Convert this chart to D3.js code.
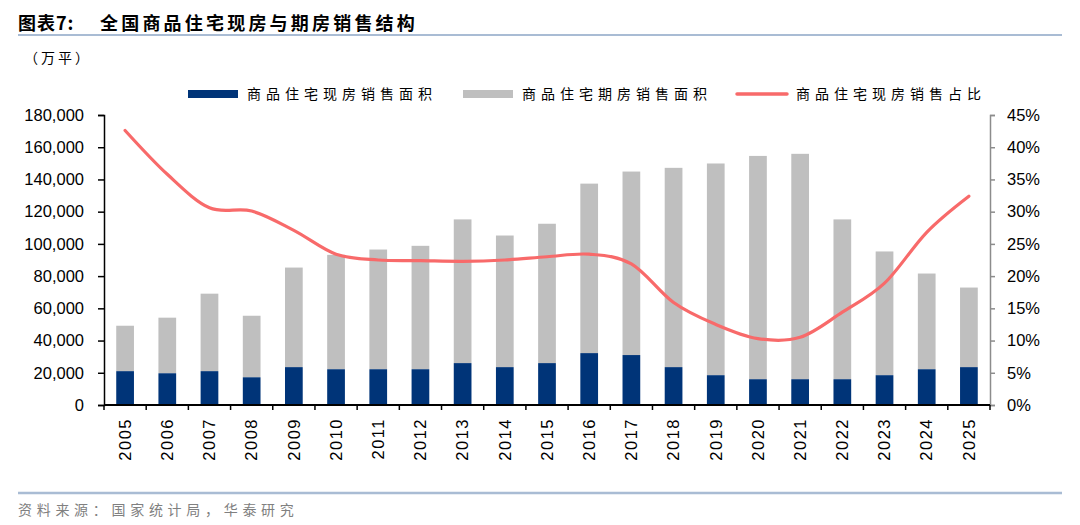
<!DOCTYPE html>
<html>
<head>
<meta charset="utf-8">
<script src="https://cdn.jsdelivr.net/npm/d3@7"></script>
<style>
    body { margin: 0; background: #fff; }
    text { font-family: "Liberation Sans", Arial, sans-serif; }
    .cjk { font-family: "Noto Sans CJK SC", sans-serif; }
</style>
</head>
<body>
<svg id="chart" width="1080" height="525"></svg>
<script>
// data
const years = ['2005', '2006', '2007', '2008', '2009', '2010', '2011', '2012', '2013', '2014', '2015',
    '2016', '2017', '2018', '2019', '2020', '2021', '2022', '2023', '2024', '2025'];
// 商品住宅现房销售面积 (万平)
const existingArea = [21000, 19700, 21000, 17200, 23500, 22200, 22200, 22200, 26000, 23500, 26000,
    32200, 31000, 23500, 18500, 16000, 16000, 16000, 18500, 22200, 23500];
// 商品住宅期房销售面积 (万平), stacked on top of the above
const presaleArea = [28200, 34500, 48100, 38200, 61800, 71000, 74300, 76600, 89200, 81700, 86500,
    105200, 113900, 123700, 131400, 138600, 139900, 99200, 76800, 59400, 49400];
// 商品住宅现房销售占比 (%)
const existingShare = [42.6, 35.8, 30.6, 30.1, 27.1, 23.4, 22.5, 22.4, 22.3, 22.5, 23.0,
    23.4, 21.9, 15.9, 12.5, 10.3, 10.5, 14.4, 18.9, 26.8, 32.4];
const leftTicks = [0, 20000, 40000, 60000, 80000, 100000, 120000, 140000, 160000, 180000];
const rightTicks = [0, 5, 10, 15, 20, 25, 30, 35, 40, 45];

const colors = {dark: '#003478', gray: '#bfbfbf', line: '#f86a6a', rule: '#a9bcd4'};

const svg = d3.select('#chart');
const plotLeft = 104, plotRight = 990, plotTop = 115, plotBottom = 405;

// header
const title = svg.append('text')
    .attr('class', 'cjk')
    .attr('y', 30)
    .attr('font-size', 18).attr('font-weight', 'bold')
    .attr('fill', '#000');
title.append('tspan').attr('x', 18).attr('letter-spacing', 1).text('图表7:');
title.append('tspan').attr('x', 100).attr('letter-spacing', 3.2).text('全国商品住宅现房与期房销售结构');

svg.append('line')
    .attr('x1', 18).attr('x2', 1062).attr('y1', 35).attr('y2', 35)
    .attr('stroke', colors.rule).attr('stroke-width', 2);

svg.append('text')
    .attr('class', 'cjk')
    .attr('x', 24).attr('y', 63)
    .attr('font-size', 14).attr('letter-spacing', 3)
    .text('（万平）');

// legend
const legend = [
    {name: '商品住宅现房销售面积', type: 'rect', color: colors.dark, x: 188},
    {name: '商品住宅期房销售面积', type: 'rect', color: colors.gray, x: 463},
    {name: '商品住宅现房销售占比', type: 'line', color: colors.line, x: 737}
];
legend.forEach(function(l) {
    if (l.type === 'rect') {
        svg.append('rect').attr('x', l.x).attr('y', 90).attr('width', 50).attr('height', 8).attr('fill', l.color);
    } else {
        svg.append('line').attr('x1', l.x).attr('x2', l.x + 50).attr('y1', 94).attr('y2', 94)
            .attr('stroke', l.color).attr('stroke-width', 3.5).attr('stroke-linecap', 'round');
    }
    svg.append('text')
        .attr('class', 'cjk')
        .attr('x', l.x + 59).attr('y', 99)
        .attr('font-size', 14).attr('letter-spacing', 5)
        .text(l.name);
});

// scales
const xScale = d3.scaleBand()
    .domain(years)
    .range([plotLeft, plotRight])
    .paddingInner(0.58)
    .paddingOuter(0.29);

const yScale = d3.scaleLinear().domain([0, 180000]).range([plotBottom, plotTop]);
const y2Scale = d3.scaleLinear().domain([0, 45]).range([plotBottom, plotTop]);

// stacked bars
const barGroups = svg.append('g').selectAll('g')
    .data(years)
    .enter()
    .append('g');

barGroups.append('rect')
    .attr('x', (d) => xScale(d))
    .attr('width', xScale.bandwidth())
    .attr('y', (d, i) => yScale(existingArea[i] + presaleArea[i]))
    .attr('height', (d, i) => yScale(existingArea[i]) - yScale(existingArea[i] + presaleArea[i]))
    .attr('fill', colors.gray);

barGroups.append('rect')
    .attr('x', (d) => xScale(d))
    .attr('width', xScale.bandwidth())
    .attr('y', (d, i) => yScale(existingArea[i]))
    .attr('height', (d, i) => plotBottom - yScale(existingArea[i]))
    .attr('fill', colors.dark);

// share line
const line = d3.line()
    .x((d, i) => xScale(years[i]) + xScale.bandwidth() / 2)
    .y((d) => y2Scale(d))
    .curve(d3.curveCardinal.tension(0));

svg.append('path')
    .datum(existingShare)
    .attr('d', line)
    .attr('fill', 'none')
    .attr('stroke', colors.line)
    .attr('stroke-width', 3.2)
    .attr('stroke-linecap', 'round');

// left axis
const leftAxis = svg.append('g')
    .attr('transform', `translate(${plotLeft},0)`)
    .call(d3.axisLeft(yScale).tickValues(leftTicks).tickSize(6).tickPadding(14).tickFormat(d3.format(',')));
leftAxis.select('.domain').attr('stroke', '#000').attr('stroke-width', 1.5);
leftAxis.selectAll('.tick line').attr('stroke', '#000').attr('stroke-width', 1.5);
leftAxis.selectAll('text').attr('font-size', 16.5).attr('fill', '#000')
    .style('font-family', '"Liberation Sans", Arial, sans-serif');

// right axis
const rightAxis = svg.append('g')
    .attr('transform', `translate(${plotRight},0)`)
    .call(d3.axisRight(y2Scale).tickValues(rightTicks).tickSize(5).tickPadding(12).tickFormat((d) => d + '%'));
rightAxis.select('.domain').attr('stroke', '#8c8c8c').attr('stroke-width', 1.5);
rightAxis.selectAll('.tick line').attr('stroke', '#8c8c8c').attr('stroke-width', 1.5);
rightAxis.selectAll('text').attr('font-size', 16.5).attr('fill', '#000')
    .style('font-family', '"Liberation Sans", Arial, sans-serif');

// bottom axis: labels centred on bars, ticks on category boundaries
const bottomAxis = svg.append('g')
    .attr('transform', `translate(0,${plotBottom})`)
    .call(d3.axisBottom(xScale).tickSize(0).tickSizeOuter(0));
bottomAxis.select('.domain').remove();
bottomAxis.selectAll('text')
    .attr('transform', 'rotate(-90)')
    .attr('x', -13)
    .attr('y', 0)
    .attr('dy', '0.35em')
    .attr('font-size', 16.5)
    .attr('letter-spacing', 1.5)
    .attr('fill', '#000')
    .style('font-family', '"Liberation Sans", Arial, sans-serif')
    .style('text-anchor', 'end');

const step = xScale.step();
svg.append('g').selectAll('line')
    .data(d3.range(years.length + 1))
    .enter()
    .append('line')
    .attr('x1', (i) => plotLeft + i * step)
    .attr('x2', (i) => plotLeft + i * step)
    .attr('y1', plotBottom)
    .attr('y2', plotBottom + 5)
    .attr('stroke', '#000')
    .attr('stroke-width', 1.5);

svg.append('line')
    .attr('x1', plotLeft).attr('x2', plotRight).attr('y1', plotBottom).attr('y2', plotBottom)
    .attr('stroke', '#000').attr('stroke-width', 2);

// footer
svg.append('line')
    .attr('x1', 18).attr('x2', 1062).attr('y1', 493).attr('y2', 493)
    .attr('stroke', colors.rule).attr('stroke-width', 2.5);

svg.append('text')
    .attr('class', 'cjk')
    .attr('x', 18).attr('y', 515)
    .attr('font-size', 14).attr('letter-spacing', 4.7)
    .attr('fill', '#808080')
    .text('资料来源：国家统计局，华泰研究');
</script>
</body>
</html>
